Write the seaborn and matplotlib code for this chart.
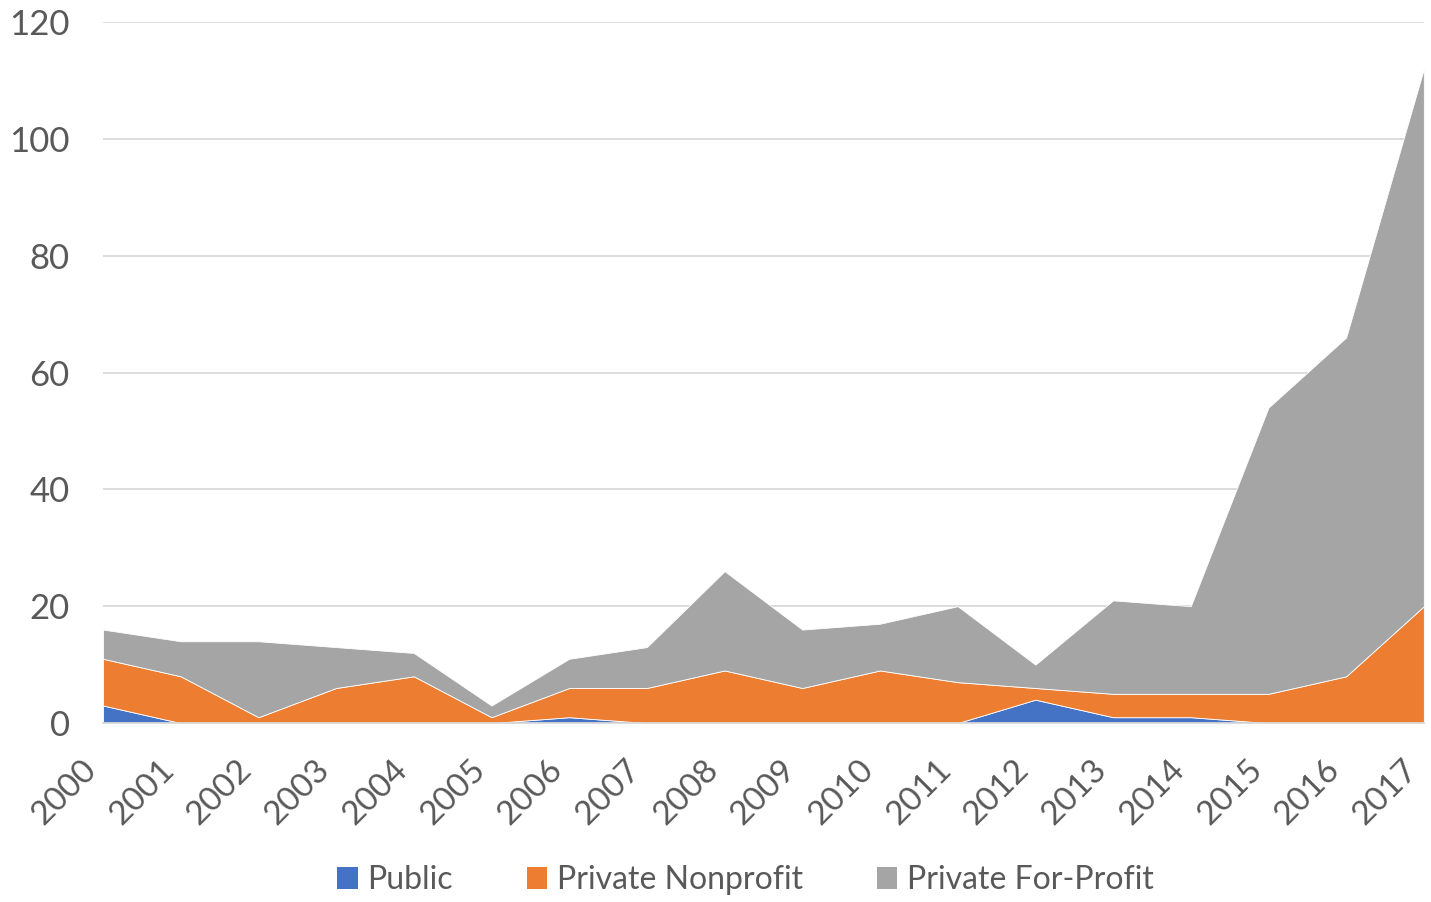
import matplotlib
matplotlib.use("Agg")
import matplotlib.pyplot as plt
import matplotlib.transforms as mtransforms
import seaborn as sns
import numpy as np
from matplotlib.patches import Patch

years = [str(y) for y in range(2000, 2018)]
public = [3, 0, 0, 0, 0, 0, 1, 0, 0, 0, 0, 0, 4, 1, 1, 0, 0, 0]
nonprofit = [8, 8, 1, 6, 8, 1, 5, 6, 9, 6, 9, 7, 2, 4, 4, 5, 8, 20]
forprofit = [5, 6, 13, 7, 4, 2, 5, 7, 17, 10, 8, 13, 4, 16, 15, 49, 58, 92]
series_names = ["Public", "Private Nonprofit", "Private For-Profit"]
colors = ["#4472C4", "#ED7D31", "#A5A5A5"]
yticks = [0, 20, 40, 60, 80, 100, 120]

sns.set_style("white")
plt.rcParams['font.family'] = ['Lato', 'DejaVu Sans']
txt = "#595959"

fig = plt.figure(figsize=(14.31, 9.02), dpi=100)
ax = fig.add_axes([0.072, 0.1984, 0.923, 0.7772])
x = np.arange(len(years))
ax.stackplot(x, public, nonprofit, forprofit, colors=colors,
             edgecolor="white", linewidth=0.6, zorder=3)
ax.set_xlim(0, len(years) - 1)
ax.set_ylim(0, 120)
ax.set_yticks(yticks)
ax.set_yticklabels([str(v) for v in yticks], fontsize=25, color=txt)
ax.yaxis.grid(True, color="#D9D9D9", linewidth=1.3, zorder=0)
ax.set_xticks(x)
ax.set_xticklabels(years, fontsize=24, color=txt, rotation=45,
                   ha="right", va="center", rotation_mode="anchor")
ax.tick_params(axis="x", length=10, color="#D9D9D9", width=1.3, pad=20)
ax.tick_params(axis="y", length=0, pad=24)
offset = mtransforms.ScaledTranslation(-8 / 72, 0, fig.dpi_scale_trans)
for lab in ax.get_xticklabels():
    lab.set_transform(lab.get_transform() + offset)
for s in ["top", "right", "left"]:
    ax.spines[s].set_visible(False)
ax.spines["bottom"].set_color("#D9D9D9")
ax.spines["bottom"].set_linewidth(1.3)
ax.spines["bottom"].set_zorder(4)

handles = [Patch(facecolor=c, edgecolor="none") for c in colors]
fig.legend(handles, series_names, loc="center", bbox_to_anchor=(0.521, 0.024),
           ncol=3, frameon=False, fontsize=23, labelcolor=txt,
           handlelength=0.65, handleheight=0.65, handletextpad=0.3, columnspacing=2.3)
fig.savefig("out.png", dpi=100)
